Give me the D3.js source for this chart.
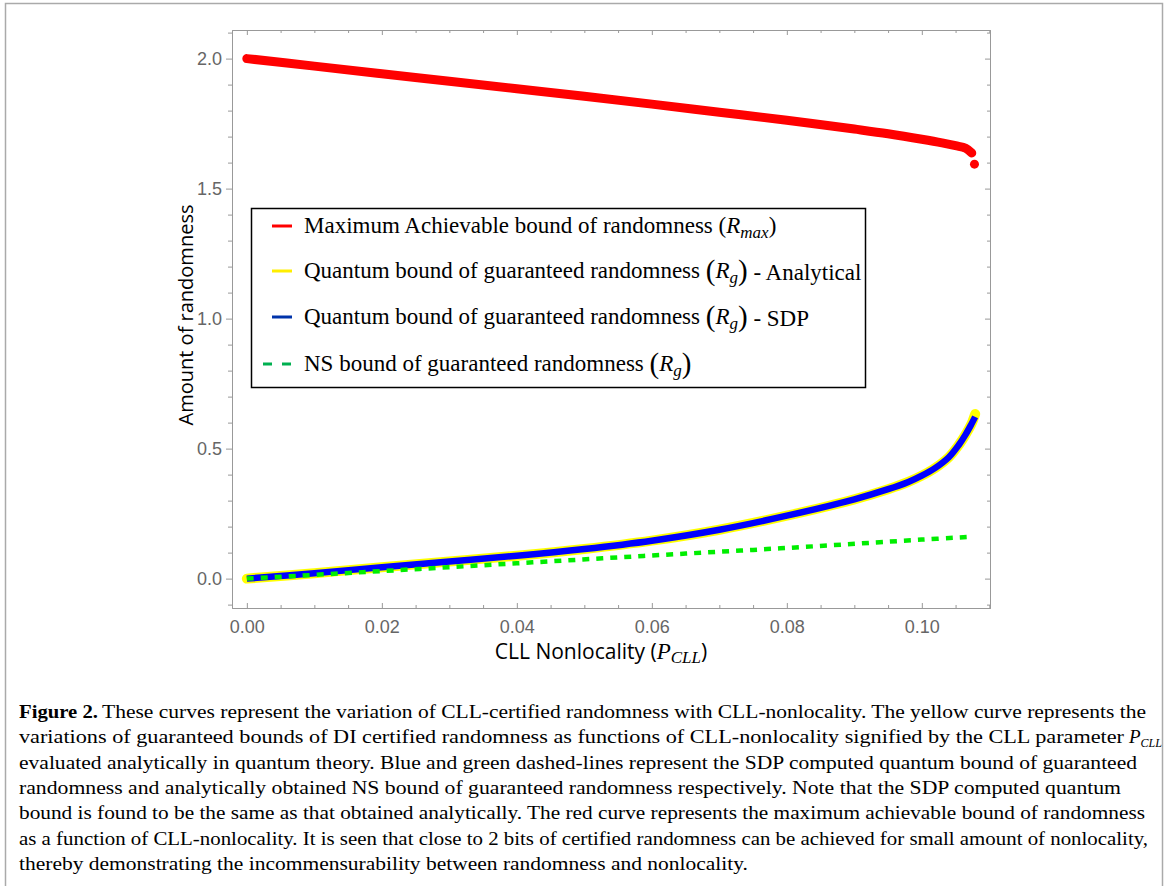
<!DOCTYPE html>
<html>
<head>
<meta charset="utf-8">
<script src="https://cdn.jsdelivr.net/npm/d3@7"></script>
<style>
  body { margin: 0; background: #fff; }
  svg { display: block; }
</style>
</head>
<body>
<svg id="canvas" width="1168" height="886"></svg>
<script>
// values
const xTicks = [0, 0.02, 0.04, 0.06, 0.08, 0.10];
const yTicks = [0, 0.5, 1.0, 1.5, 2.0];

const rmaxX = [0, 0.01, 0.02, 0.03, 0.04, 0.05, 0.06, 0.07, 0.08, 0.09, 0.095, 0.1, 0.103, 0.105, 0.1065, 0.1074];
const rmaxY = [2.0, 1.971, 1.942, 1.913, 1.884, 1.855, 1.825, 1.794, 1.763, 1.729, 1.711, 1.69, 1.676, 1.665, 1.655, 1.637];
const rmaxDot = [0.1078, 1.594];

const quantX = [0, 0.01, 0.02, 0.03, 0.04, 0.05, 0.06, 0.07, 0.08, 0.09, 0.095, 0.098, 0.1, 0.102, 0.104, 0.1055, 0.1065, 0.1073, 0.1079];
const quantAnalytic = [0, 0.021, 0.044, 0.066, 0.088, 0.114, 0.146, 0.188, 0.242, 0.305, 0.344, 0.372, 0.396, 0.426, 0.467, 0.515, 0.555, 0.592, 0.633];
const quantSDP = [0, 0.021, 0.044, 0.066, 0.088, 0.114, 0.146, 0.188, 0.242, 0.305, 0.344, 0.372, 0.396, 0.426, 0.467, 0.515, 0.555, 0.592, 0.622];

const nsX = [0, 0.02, 0.04, 0.06, 0.08, 0.1, 0.1074];
const nsY = [0, 0.029, 0.059, 0.089, 0.118, 0.150, 0.161];

const legendLabels = [
  {main: "Maximum Achievable bound of randomness ", sub: "max", tail: ""},
  {main: "Quantum bound of guaranteed randomness ", sub: "g", tail: " - Analytical"},
  {main: "Quantum bound of guaranteed randomness ", sub: "g", tail: " - SDP"},
  {main: "NS bound of guaranteed randomness ", sub: "g", tail: ""}
];
const legendColors = ["#ff0000", "#ffee00", "#0033aa", "#00b050"];

const captionLines = [
  "These curves represent the variation of CLL-certified randomness with CLL-nonlocality. The yellow curve represents the",
  "variations of guaranteed bounds of DI certified randomness as functions of CLL-nonlocality signified by the CLL parameter",
  "evaluated analytically in quantum theory. Blue and green dashed-lines represent the SDP computed quantum bound of guaranteed",
  "randomness and analytically obtained NS bound of guaranteed randomness respectively. Note that the SDP computed quantum",
  "bound is found to be the same as that obtained analytically. The red curve represents the maximum achievable bound of randomness",
  "as a function of CLL-nonlocality. It is seen that close to 2 bits of certified randomness can be achieved for small amount of nonlocality,",
  "thereby demonstrating the incommensurability between randomness and nonlocality."
];
const captionEnds = [1146, 1124, 1137, 1121, 1145, 1148, 748];

const plotLeft = 232, plotRight = 990, plotTop = 30, plotBottom = 608;
const axisColor = "#999";
const labelColor = "#666";

const svg = d3.select("#canvas");

// outer figure border
svg.append("rect")
  .attr("x", 5.5).attr("y", 3.5)
  .attr("width", 1157).attr("height", 920)
  .attr("fill", "none").attr("stroke", "#aaa").attr("stroke-width", 1.5);

const x = d3.scaleLinear().domain([-0.0022, 0.1101]).range([plotLeft, plotRight]);
const y = d3.scaleLinear().domain([-0.113, 2.11]).range([plotBottom, plotTop]);

const xMinor = d3.range(0, 0.1101, 0.005).filter(v => !xTicks.some(t => Math.abs(t - v) < 1e-9));
const yMinor = d3.range(-0.1, 2.11, 0.1).filter(v => !yTicks.some(t => Math.abs(t - v) < 1e-9));

function styleAxis(g) {
  g.select(".domain").attr("stroke", axisColor);
  g.selectAll(".tick line").attr("stroke", axisColor);
  g.selectAll(".tick text")
    .attr("fill", labelColor)
    .style("font-family", "'Liberation Sans', Arial, sans-serif")
    .style("font-size", "18px");
}

// bottom
svg.append("g").attr("transform", `translate(0,${plotBottom})`)
  .call(d3.axisBottom(x).tickValues(xTicks).tickFormat(d3.format(".2f")).tickSize(-5).tickPadding(12).tickSizeOuter(0))
  .call(styleAxis);
svg.append("g").attr("transform", `translate(0,${plotBottom})`)
  .call(d3.axisBottom(x).tickValues(xMinor).tickFormat("").tickSize(-3).tickSizeOuter(0))
  .call(styleAxis);
// top
svg.append("g").attr("transform", `translate(0,${plotTop})`)
  .call(d3.axisTop(x).tickValues(xTicks).tickFormat("").tickSize(-5).tickSizeOuter(0))
  .call(styleAxis);
svg.append("g").attr("transform", `translate(0,${plotTop})`)
  .call(d3.axisTop(x).tickValues(xMinor).tickFormat("").tickSize(-3).tickSizeOuter(0))
  .call(styleAxis);
// left
svg.append("g").attr("transform", `translate(${plotLeft},0)`)
  .call(d3.axisLeft(y).tickValues(yTicks).tickFormat(d3.format(".1f")).tickSize(6).tickPadding(4).tickSizeOuter(0))
  .call(styleAxis);
svg.append("g").attr("transform", `translate(${plotLeft},0)`)
  .call(d3.axisLeft(y).tickValues(yMinor).tickFormat("").tickSize(4).tickSizeOuter(0))
  .call(styleAxis);
// right
svg.append("g").attr("transform", `translate(${plotRight},0)`)
  .call(d3.axisRight(y).tickValues(yTicks).tickFormat("").tickSize(-5).tickSizeOuter(0))
  .call(styleAxis);
svg.append("g").attr("transform", `translate(${plotRight},0)`)
  .call(d3.axisRight(y).tickValues(yMinor).tickFormat("").tickSize(-3).tickSizeOuter(0))
  .call(styleAxis);

// curves
const line = d3.line().x(d => x(d[0])).y(d => y(d[1])).curve(d3.curveCatmullRom.alpha(0.5));
const zip = (xs, ys) => xs.map((v, i) => [v, ys[i]]);

svg.append("path").datum(zip(rmaxX, rmaxY))
  .attr("d", line).attr("fill", "none")
  .attr("stroke", "#ff0000").attr("stroke-width", 9).attr("stroke-linecap", "round");
svg.append("circle")
  .attr("cx", x(rmaxDot[0])).attr("cy", y(rmaxDot[1])).attr("r", 4.5).attr("fill", "#ff0000");

svg.append("path").datum(zip(quantX, quantAnalytic))
  .attr("d", line).attr("fill", "none")
  .attr("stroke", "#ffff00").attr("stroke-width", 10).attr("stroke-linecap", "round");
svg.append("path").datum(zip(quantX, quantSDP))
  .attr("d", line).attr("fill", "none")
  .attr("stroke", "#0000ff").attr("stroke-width", 6.5).attr("stroke-linecap", "butt");

svg.append("path").datum(zip(nsX, nsY))
  .attr("d", line).attr("fill", "none")
  .attr("stroke", "#00ee00").attr("stroke-width", 4.5).attr("stroke-dasharray", "7,7");

// axis titles
svg.append("text")
  .attr("transform", "translate(193,315) rotate(-90)")
  .attr("text-anchor", "middle")
  .style("font-family", "'Open Sans', sans-serif").style("font-size", "20px")
  .text("Amount of randomness");

const xt = svg.append("text")
  .attr("x", 601).attr("y", 659)
  .attr("text-anchor", "middle")
  .style("font-family", "'Open Sans', sans-serif").style("font-size", "21px");
xt.append("tspan").text("CLL Nonlocality (");
xt.append("tspan").style("font-family", "'Liberation Serif', serif").style("font-style", "italic").style("font-size", "23px").text("P");
xt.append("tspan").attr("dy", 4).style("font-family", "'Liberation Serif', serif").style("font-style", "italic").style("font-size", "17px").text("CLL");
xt.append("tspan").attr("dy", -4).text(")");

// legend
const lg = svg.append("g");
lg.append("rect")
  .attr("x", 251.5).attr("y", 208.5).attr("width", 614).attr("height", 179)
  .attr("fill", "#fff").attr("stroke", "#000").attr("stroke-width", 1.5);

const rowY = [226, 271, 317, 364];
legendLabels.forEach((lab, i) => {
  lg.append("line")
    .attr("x1", i === 3 ? 263 : 272).attr("x2", 292).attr("y1", rowY[i]).attr("y2", rowY[i])
    .attr("stroke", legendColors[i]).attr("stroke-width", 3)
    .attr("stroke-dasharray", i === 3 ? "9,10" : null);
  const t = lg.append("text")
    .attr("x", 304).attr("y", rowY[i] + 7)
    .style("font-family", "'Liberation Serif', 'Times New Roman', serif").style("font-size", "23px");
  t.append("tspan").text(lab.main);
  t.append("tspan").style("font-size", i === 0 ? "23px" : "29px").attr("dy", i === 0 ? 0 : 2).text("(");
  t.append("tspan").style("font-style", "italic").attr("dy", i === 0 ? 0 : -2).text("R");
  t.append("tspan").style("font-style", "italic").style("font-size", "17px").attr("dy", 5).text(lab.sub);
  t.append("tspan").style("font-size", i === 0 ? "23px" : "29px").attr("dy", i === 0 ? -5 : -3).text(")");
  t.append("tspan").text(lab.tail);
});

// caption
const cap = svg.append("g")
  .style("font-family", "'Liberation Serif', 'Times New Roman', serif").style("font-size", "19px");
const baseY = 718, lineGap = 25.3;
cap.append("text").attr("x", 19).attr("y", baseY)
  .style("font-weight", "bold")
  .attr("textLength", 79).attr("lengthAdjust", "spacingAndGlyphs")
  .text("Figure 2.");
captionLines.forEach((s, i) => {
  const x0 = i === 0 ? 102 : 19;
  cap.append("text")
    .attr("x", x0).attr("y", baseY + i * lineGap)
    .attr("textLength", captionEnds[i] - x0).attr("lengthAdjust", "spacingAndGlyphs")
    .text(s);
});
const pc = cap.append("text").attr("x", 1129).attr("y", baseY + lineGap);
pc.append("tspan").style("font-style", "italic").text("P");
pc.append("tspan").attr("dy", 4).style("font-style", "italic").style("font-size", "12px").text("CLL");
</script>
</body>
</html>
